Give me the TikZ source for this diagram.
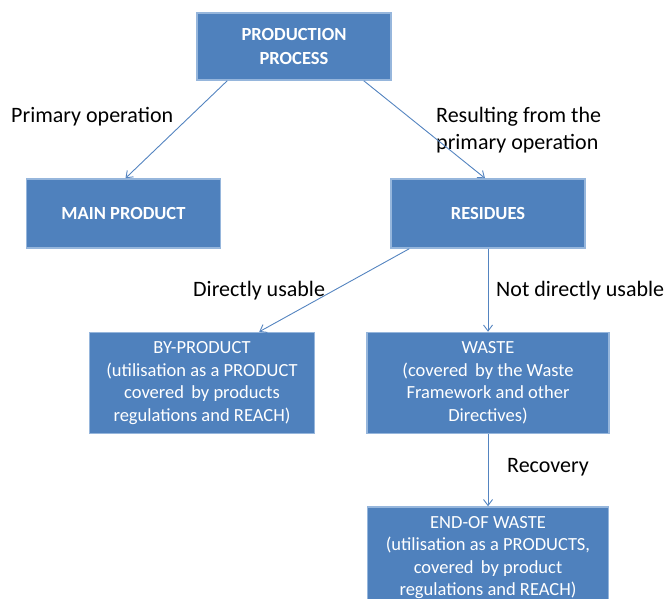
\documentclass[tikz,border=0pt]{standalone}
\usepackage{fontspec}
\setmainfont{Carlito}
\usepackage{tikz}
\usetikzlibrary{positioning,arrows.meta,calc}

\definecolor{boxfill}{RGB}{79,129,189}
\definecolor{boxline}{RGB}{150,182,220}
\definecolor{arrowblue}{RGB}{84,132,192}

\begin{document}
\begin{tikzpicture}[x=1pt, y=1pt, node distance=83pt and 51pt, box/.style={draw=boxline, line width=1.5pt, fill=boxfill, text=white, align=center, inner sep=2pt, font=\fontsize{18.5}{22.5}\selectfont}, lbl/.style={inner sep=0pt, anchor=west, align=left, font=\fontsize{22}{27}\selectfont}, arrow/.style={-{Straight Barb[length=6pt, width=9pt]}, draw=arrowblue, line width=0.9pt}]
        \useasboundingbox (0,0) rectangle (664,598);
        \node[box, minimum width=194pt, minimum height=67pt, font=\fontsize{18.5}{24}\selectfont\bfseries] (prod) at (294,551.5) {PRODUCTION\\PROCESS};
        \node[box, minimum width=194pt, minimum height=69pt, font=\fontsize{18.5}{22.5}\selectfont\bfseries] (res) at (488,384.5) {RESIDUES};
        \node[box, minimum width=194pt, minimum height=69pt, font=\fontsize{18.5}{22.5}\selectfont\bfseries, left=169pt of res] (main) {MAIN PRODUCT};
        \node[box, minimum width=242pt, minimum height=101pt, below=of res] (waste) {WASTE\\(covered\, by the Waste\\Framework and other\\Directives)};
        \node[box, minimum width=225pt, minimum height=101pt, left=of waste] (byp) {BY-PRODUCT\\(utilisation as a PRODUCT\\covered\, by products\\regulations and REACH)};
        \node[box, minimum width=241pt, minimum height=101pt, below=72pt of waste] (eow) {END-OF WASTE\\(utilisation as a PRODUCTS,\\covered\, by product\\regulations and REACH)};
        \node[lbl] (lprim) at (11,481) {Primary operation};
        \node[lbl] (lres) at (436,468) {Resulting from the\\primary operation};
        \node[lbl] (ldir) at (193,307) {Directly usable};
        \node[lbl] (lnotdir) at (496,307) {Not directly usable};
        \node[lbl] (lrec) at (507,131) {Recovery};
        \draw[arrow] ($(prod.south west)+(31,0)$) -- ($(main.north)+(2,0)$);
        \draw[arrow] ($(prod.south east)+(-28,0)$) -- ($(res.north)+(-3,0)$);
        \draw[arrow] ($(res.south west)+(19,0)$) -- ($(byp.north east)+(-56,0)$);
        \draw[arrow] (res) -- (waste);
        \draw[arrow] (waste) -- (eow);
    \end{tikzpicture}
\end{document}
